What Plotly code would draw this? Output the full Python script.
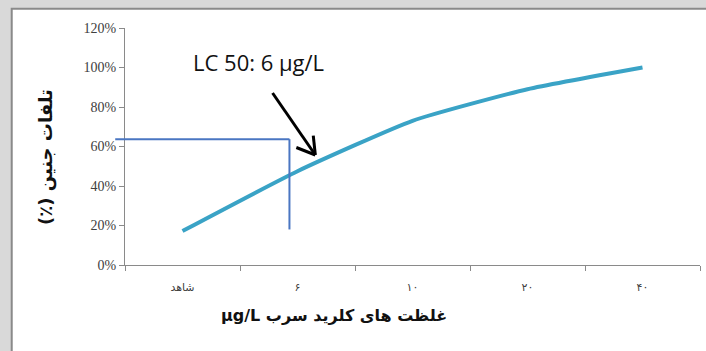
import plotly.graph_objects as go

# Embryo mortality vs. lead chloride concentration
categories = ["شاهد", "۶", "۱۰", "۲۰", "۴۰"]
mortality = [0.172, 0.475, 0.73, 0.89, 1.0]
y_ticks = [0, 0.2, 0.4, 0.6, 0.8, 1.0, 1.2]
y_tick_labels = ["0%", "20%", "40%", "60%", "80%", "100%", "120%"]

# LC50 guide lines (category index / fraction)
lc50_x = 0.93
lc50_y = 0.637
lc50_y_low = 0.18
lc50_label = "LC 50: 6 µg/L"

fig = go.Figure()

fig.add_trace(go.Scatter(
    x=categories, y=mortality, mode="lines",
    line=dict(color="#3aa3c6", width=4, shape="spline", smoothing=0.5),
    hoverinfo="skip", showlegend=False,
))

n_cat = len(categories)
def idx_to_paper(i):
    return (i + 0.5) / n_cat

shapes = [
    # outer white panel with border
    dict(type="rect", xref="paper", yref="paper", x0=-0.197, x1=1.05, y0=-0.5, y1=1.081,
         fillcolor="white", line=dict(color="#8a8a8a", width=2), layer="below"),
    # horizontal LC50 guide
    dict(type="line", xref="paper", yref="y", x0=-0.017, x1=idx_to_paper(lc50_x),
         y0=lc50_y, y1=lc50_y, line=dict(color="#4a76c2", width=2)),
    # vertical LC50 guide
    dict(type="line", xref="x", yref="y", x0=lc50_x, x1=lc50_x,
         y0=lc50_y_low, y1=lc50_y, line=dict(color="#4a76c2", width=2)),
]

# pointer arrow: shaft and open head
tail = (0.783, 0.871)
tip = (1.155, 0.557)
arm_a = (0.99, 0.595)
arm_b = (1.137, 0.655)
for p in (tail, arm_a, arm_b):
    shapes.append(dict(type="line", xref="x", yref="y", x0=p[0], y0=p[1], x1=tip[0], y1=tip[1],
                       line=dict(color="black", width=3)))

annotations = [
    dict(text=lc50_label, x=0.66, y=1.03, xref="x", yref="y", showarrow=False,
         font=dict(family="Open Sans", size=22, color="#111111")),
    dict(text="<b>µg/L غلظت های کلرید سرب</b>", x=(334 - 125) / 575, y=(265 - 327) / 237,
         xref="paper", yref="paper", showarrow=False,
         font=dict(family="DejaVu Sans", size=16, color="#111111")),
    dict(text="<b>(٪) تلفات جنین</b>", x=(33 - 125) / 575, y=(265 - 157) / 237,
         xref="paper", yref="paper", showarrow=False, textangle=-90,
         font=dict(family="DejaVu Sans", size=18, color="#111111")),
]

fig.update_layout(
    width=706, height=351,
    margin=dict(l=125, r=6, t=28, b=86),
    paper_bgcolor="#d9d9d9", plot_bgcolor="white",
    shapes=shapes, annotations=annotations,
    showlegend=False,
)

fig.update_xaxes(
    type="category", range=[-0.5, 4.5], tickson="boundaries",
    showline=True, linecolor="#8a8a8a", linewidth=1,
    ticks="outside", ticklen=5, tickcolor="#8a8a8a",
    showgrid=False, zeroline=False, ticklabelstandoff=12,
    tickfont=dict(family="DejaVu Sans", size=11, color="#404040"),
)
fig.update_yaxes(
    range=[0, 1.2], tickvals=y_ticks, ticktext=y_tick_labels,
    showline=True, linecolor="#8a8a8a", linewidth=1,
    ticks="outside", ticklen=5, tickcolor="#8a8a8a",
    showgrid=False, zeroline=False,
    tickfont=dict(family="Liberation Serif", size=14, color="#404040"),
)

fig.write_html("out.html")
